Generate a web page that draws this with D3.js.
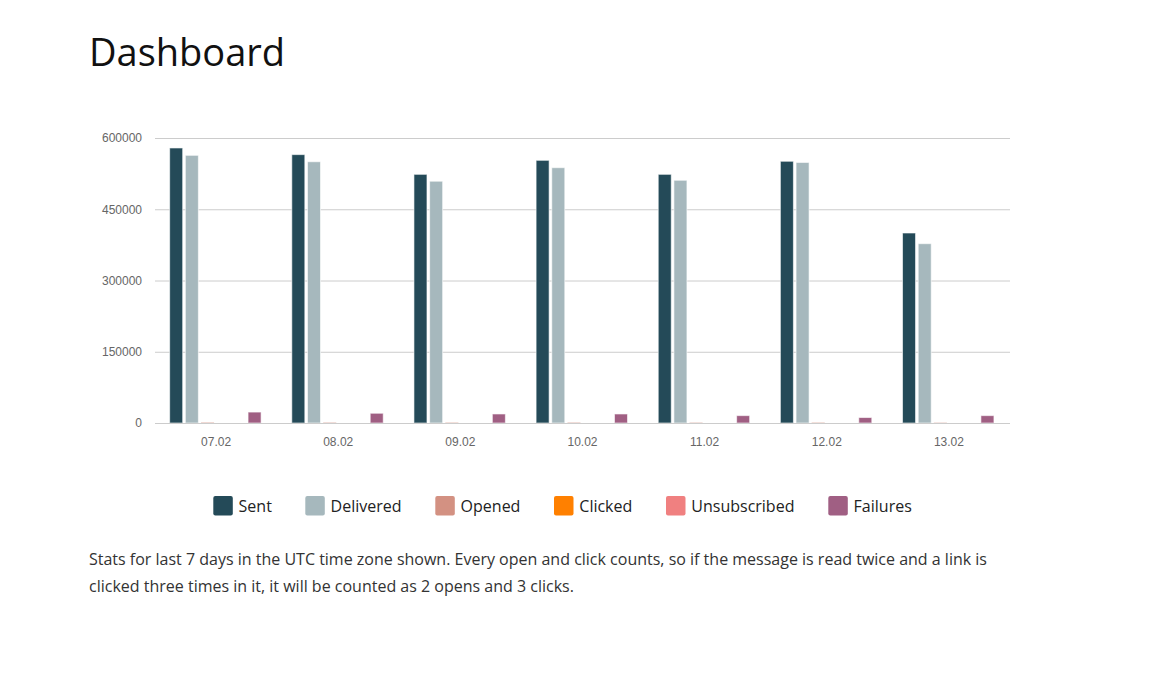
<!DOCTYPE html>
<html>
<head>
<meta charset="utf-8">
<script src="https://cdn.jsdelivr.net/npm/d3@7"></script>
<style>
  html, body { margin: 0; padding: 0; background: #fff; }
  body { width: 1153px; height: 694px; position: relative; overflow: hidden; font-family: "Open Sans", sans-serif; }
  h1 { position: absolute; left: 89px; top: 24px; margin: 0; font-weight: 400; font-size: 38px; color: #111; line-height: 54px; }
  #chart { position: absolute; left: 0; top: 0; }
  p.note { position: absolute; left: 89px; top: 546px; margin: 0; font-size: 16px; line-height: 26.5px; color: #333; width: 960px; }
</style>
</head>
<body>
<h1>Dashboard</h1>
<svg id="chart" width="1153" height="540"></svg>
<p class="note">Stats for last 7 days in the UTC time zone shown. Every open and click counts, so if the message is read twice and a link is<br>clicked three times in it, it will be counted as 2 opens and 3 clicks.</p>
<script>
const categories = ["07.02", "08.02", "09.02", "10.02", "11.02", "12.02", "13.02"];
const seriesNames = ["Sent", "Delivered", "Opened", "Clicked", "Unsubscribed", "Failures"];
const seriesColors = ["#244a58", "#a6b8bd", "#d39182", "#ff8000", "#f08080", "#a05f83"];
const sent =         [579000, 565000, 523500, 553000, 523500, 551000, 400000];
const delivered =    [563500, 550000, 509000, 537500, 511000, 548500, 377500];
const opened =       [1800, 1600, 1500, 1600, 1400, 1500, 1200];
const clicked =      [0, 0, 0, 0, 0, 0, 0];
const unsubscribed = [0, 0, 0, 0, 0, 0, 0];
const failures =     [23000, 20500, 19000, 19000, 15500, 11500, 15500];
const yTicks = [0, 150000, 300000, 450000, 600000];

const seriesValues = [sent, delivered, opened, clicked, unsubscribed, failures];

const svg = d3.select("#chart");
const plotLeft = 155, plotRight = 1010, plotTop = 138, plotBottom = 423;

const x0 = d3.scaleBand().domain(categories).range([plotLeft, plotRight]).padding(0);
const x1 = d3.scaleBand().domain(seriesNames).range([0, x0.bandwidth()]).paddingInner(0.17).paddingOuter(0.98);
const y = d3.scaleLinear().domain([0, 600000]).range([plotBottom, plotTop]);

// gridlines
svg.append("g")
  .selectAll("line")
  .data(yTicks)
  .join("line")
  .attr("x1", plotLeft).attr("x2", plotRight)
  .attr("y1", d => y(d) + 0.5).attr("y2", d => y(d) + 0.5)
  .attr("stroke", "#cccccc").attr("stroke-width", 1);

// y axis labels
const yAxis = d3.axisLeft(y).tickValues(yTicks).tickSize(0).tickPadding(13).tickFormat(d3.format("d"));
const yg = svg.append("g").attr("transform", `translate(${plotLeft},0)`).call(yAxis);
yg.select(".domain").remove();
yg.selectAll("text").attr("font-family", "Arial, 'Liberation Sans', sans-serif").attr("font-size", 12).attr("fill", "#666");

// bars
const groups = svg.append("g").selectAll("g")
  .data(categories)
  .join("g")
  .attr("transform", d => `translate(${x0(d) - 0.7},0)`);

groups.selectAll("rect")
  .data((c, i) => seriesNames.map((s, j) => ({ s, j, v: seriesValues[j][i] })))
  .join("rect")
  .attr("x", d => x1(d.s))
  .attr("width", x1.bandwidth())
  .attr("y", d => y(d.v))
  .attr("height", d => Math.max(0, y(0) - y(d.v)))
  .attr("fill", d => seriesColors[d.j])
  .attr("stroke", "#ffffff")
  .attr("stroke-opacity", 0.6)
  .attr("stroke-width", 1);

// baseline
svg.append("line")
  .attr("x1", plotLeft).attr("x2", plotRight)
  .attr("y1", y(0) + 0.5).attr("y2", y(0) + 0.5)
  .attr("stroke", "#cccccc").attr("stroke-width", 1);

// x axis
const xAxis = d3.axisBottom(x0).tickSize(0).tickPadding(14);
const xg = svg.append("g").attr("transform", `translate(0,${plotBottom})`).call(xAxis);
xg.select(".domain").remove();
xg.selectAll("text").attr("font-family", "Arial, 'Liberation Sans', sans-serif").attr("font-size", 12).attr("fill", "#666");

// legend
const legendX = [213.3, 305.3, 435.3, 554, 666, 828.3];
const legend = svg.append("g").selectAll("g")
  .data(seriesNames)
  .join("g")
  .attr("transform", (d, i) => `translate(${legendX[i]},496)`);
legend.append("rect")
  .attr("width", 19.5).attr("height", 19.5).attr("rx", 2)
  .attr("fill", (d, i) => seriesColors[i]);
legend.append("text")
  .attr("x", 25.3).attr("y", 16)
  .attr("font-family", "'Open Sans', sans-serif")
  .attr("font-size", 16).attr("fill", "#222")
  .text(d => d);
</script>
</body>
</html>
